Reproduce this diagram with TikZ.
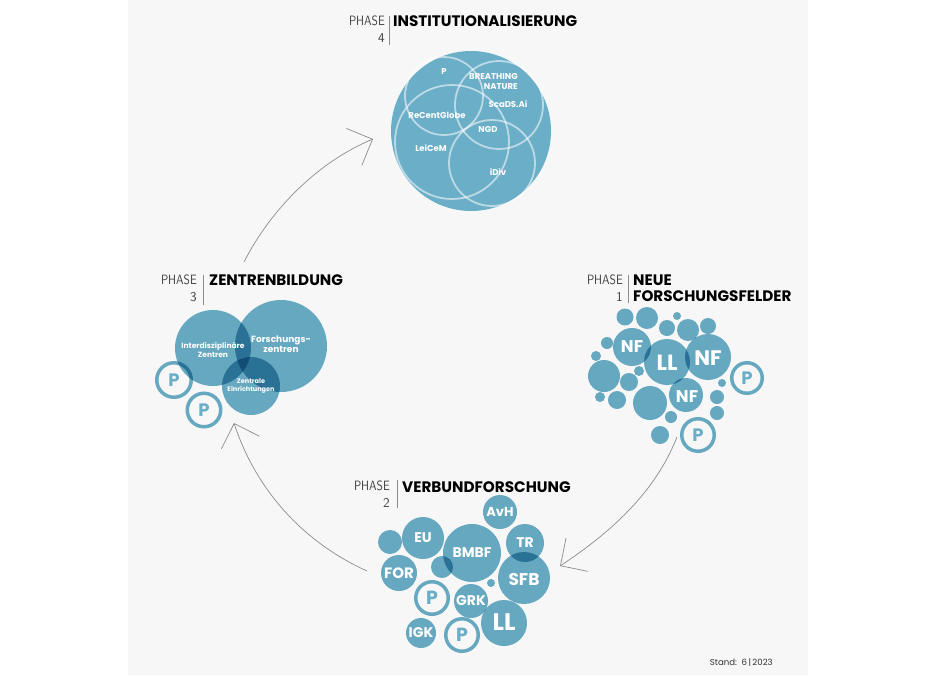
\documentclass[tikz,border=0pt]{standalone}
\usepackage{fontspec}
\setmainfont{Poppins}
\usepackage{graphicx}
\usetikzlibrary{arrows.meta}
\definecolor{bubble}{HTML}{6AAEC7}
\definecolor{panel}{HTML}{F7F7F7}
\definecolor{arrowgray}{HTML}{8C8C8C}
\newcommand{\phs}[1]{\scalebox{0.86}[1]{PHASE}\\#1}

\begin{document}
\begin{tikzpicture}[x=1pt,y=-1pt,>={Straight Barb[length=20pt,width=40pt]}]
    \tikzset{
      bub/.style={circle,fill=bubble,inner sep=0pt,minimum size=#1},
      ring/.style={circle,draw=bubble,line width=3.5pt,inner sep=0pt,minimum size=#1},
      venn/.style={circle,draw=white,draw opacity=0.55,line width=1.8pt,inner sep=0pt,minimum size=#1},
      lbl/.style={text=white,inner sep=0pt,align=center,font=\bfseries\fontsize{#1}{#1}\selectfont},
      plbl/.style={lbl=#1,text=bubble},
      phs/.style={anchor=north east,align=right,inner sep=0pt,text=black!75,font=\sffamily\fontsize{13.5}{17.5}\selectfont},
      ttl/.style={anchor=north west,align=left,inner sep=0pt,text=black,font=\bfseries\fontsize{15.2}{16}\selectfont},
      bar/.style={draw=black!45,line width=0.6pt},
      ar/.style={->,draw=arrowgray,line width=0.7pt}}
    \useasboundingbox (0,0) rectangle (936,675);
    \fill[white] (0,0) rectangle (936,675);
    \fill[panel] (128,0) rectangle (808,675);
    % phase 4
    \node[bub=160] (inst) at (471,131) {};
    \node[venn=78] (va) at (444,96) {};
    \node[venn=88] (vb) at (499,105) {};
    \node[venn=114] (vc) at (452,142) {};
    \node[venn=86] (vd) at (492,163) {};
    \node[lbl=8.5] (va-t) at (444,72) {P};
    \node[lbl=8.5,anchor=east,align=right,font=\bfseries\fontsize{8.5}{9.5}\selectfont] (vb-t) at (518,81.5) {BREATHING\\NATURE};
    \node[lbl=8.5] (vb-u) at (508,104) {ScaDS.Ai};
    \node[lbl=8.5] (vc-t) at (437,115) {ReCentGlobe};
    \node[lbl=8.5] (vd-t) at (488,129) {NGD};
    \node[lbl=8.5] (vc-u) at (431,148) {LeiCeM};
    \node[lbl=8.5] (vd-u) at (498,172) {iDiv};
    \node[phs] (ph4) at (385,15.5) {\phs{4}};
    \node[ttl] (tt4) at (393,15.5) {INSTITUTIONALISIERUNG};
    \draw[bar] (389,16) -- (389,45);
    % phase 3
    \begin{scope}[blend mode=multiply]
      \node[bub=76] (izd) at (213,348) {};
      \node[bub=92] (fz) at (281,346) {};
      \node[bub=58] (ze) at (251,386) {};
      \node[ring=34.5] (pe) at (174,380) {};
      \node[ring=33.5] (pf) at (204,410) {};
    \end{scope}
    \node[lbl=7.5,font=\bfseries\fontsize{7.5}{9}\selectfont] (izd-t) at (213,350) {Interdisziplinäre\\Zentren};
    \node[lbl=9,font=\bfseries\fontsize{9}{9.5}\selectfont] (fz-t) at (281,344) {Forschungs-\\zentren};
    \node[lbl=6.5,font=\bfseries\fontsize{6.5}{8}\selectfont] (ze-t) at (251,386) {Zentrale\\Einrichtungen};
    \node[plbl=18] (pe-t) at (174,380) {P};
    \node[plbl=18] (pf-t) at (204,410) {P};
    \node[phs] (ph3) at (197,274.5) {\phs{3}};
    \node[ttl] (tt3) at (209,275) {ZENTRENBILDUNG};
    \draw[bar] (203,275) -- (203,305);
    % phase 1
    \begin{scope}[blend mode=multiply]
      \foreach \x/\y/\rad [count=\i] in {625/317/8.5, 647/318/11, 677/316/4, 667/328/8, 688/330/11, 708/326/8,
          607/343/6, 596/356/5, 604/376/16, 639/371/5, 629/382/9, 600/397/5, 617/400/9, 650/403/17,
          722/383/4, 717/397/7, 717/413/7, 671/417/6, 660/435/9}
        \node[bub=2*\rad] (f\i) at (\x,\y) {};
      \node[bub=38] (nfa) at (632,347) {};
      \node[bub=46] (lla) at (667,362) {};
      \node[bub=46] (nfb) at (708,357) {};
      \node[bub=34] (nfc) at (686,395) {};
      \node[ring=30.5] (pa) at (747,378) {};
      \node[ring=32.5] (pb) at (698,435) {};
    \end{scope}
    \node[lbl=17] (nfa-t) at (632,347) {NF};
    \node[lbl=22] (lla-t) at (667,363) {LL};
    \node[lbl=21] (nfb-t) at (708,358) {NF};
    \node[lbl=17] (nfc-t) at (687,397) {NF};
    \node[plbl=18] (pa-t) at (747,378) {P};
    \node[plbl=18] (pb-t) at (698,435) {P};
    \node[phs] (ph1) at (623,274.5) {\phs{1}};
    \node[ttl] (tt1) at (633,275) {NEUE\\FORSCHUNGSFELDER};
    \draw[bar] (628,275) -- (628,303);
    % phase 2
    \begin{scope}[blend mode=multiply]
      \foreach \x/\y/\rad [count=\i] in {390/542/12, 442/567/11, 491/583/4}
        \node[bub=2*\rad] (v\i) at (\x,\y) {};
      \node[bub=34] (avh) at (500,512) {};
      \node[bub=42] (eu) at (423,538) {};
      \node[bub=58] (bmbf) at (472,553) {};
      \node[bub=38] (tr) at (525,543) {};
      \node[bub=36] (fo) at (399,573) {};
      \node[bub=52] (sfb) at (524,578) {};
      \node[bub=34] (grk) at (471,601) {};
      \node[bub=46] (llb) at (504,623) {};
      \node[bub=30] (igk) at (421,633) {};
      \node[ring=32.5] (pc) at (432,598) {};
      \node[ring=32.5] (pd) at (462,635) {};
    \end{scope}
    \node[lbl=13] (avh-t) at (500,512) {AvH};
    \node[lbl=14] (eu-t) at (423,538) {EU};
    \node[lbl=14] (bmbf-t) at (472,553) {BMBF};
    \node[lbl=14] (tr-t) at (525,543) {TR};
    \node[lbl=15] (fo-t) at (399,573) {FOR};
    \node[lbl=17] (sfb-t) at (524,579) {SFB};
    \node[lbl=14] (grk-t) at (471,601) {GRK};
    \node[lbl=24] (llb-t) at (504,622) {LL};
    \node[lbl=14] (igk-t) at (421,633) {IGK};
    \node[plbl=19] (pc-t) at (432,598) {P};
    \node[plbl=19] (pd-t) at (462,635) {P};
    \node[phs] (ph2) at (390,480.5) {\phs{2}};
    \node[ttl] (tt2) at (402,481) {VERBUNDFORSCHUNG};
    \draw[bar] (397,480) -- (397,508);
    % cycle
    \coordinate (a1s) at (677,437);
    \coordinate (a1e) at (560,566);
    \coordinate (a2s) at (367,571);
    \coordinate (a2e) at (234,423);
    \coordinate (a3s) at (244,262);
    \coordinate (a3e) at (373,139);
    \draw[ar] (a1s) .. controls (655,493) and (610,533) .. (a1e);
    \draw[ar] (a2s) .. controls (303,542) and (256,490) .. (a2e);
    \draw[ar] (a3s) .. controls (271,209) and (318,162) .. (a3e);
    \node[anchor=east,inner sep=0pt,text=black!80,font=\fontsize{8.6}{8.6}\selectfont] (stand) at (773,663) {Stand:\ \ 6\,|\,2023};
\end{tikzpicture}
\end{document}
